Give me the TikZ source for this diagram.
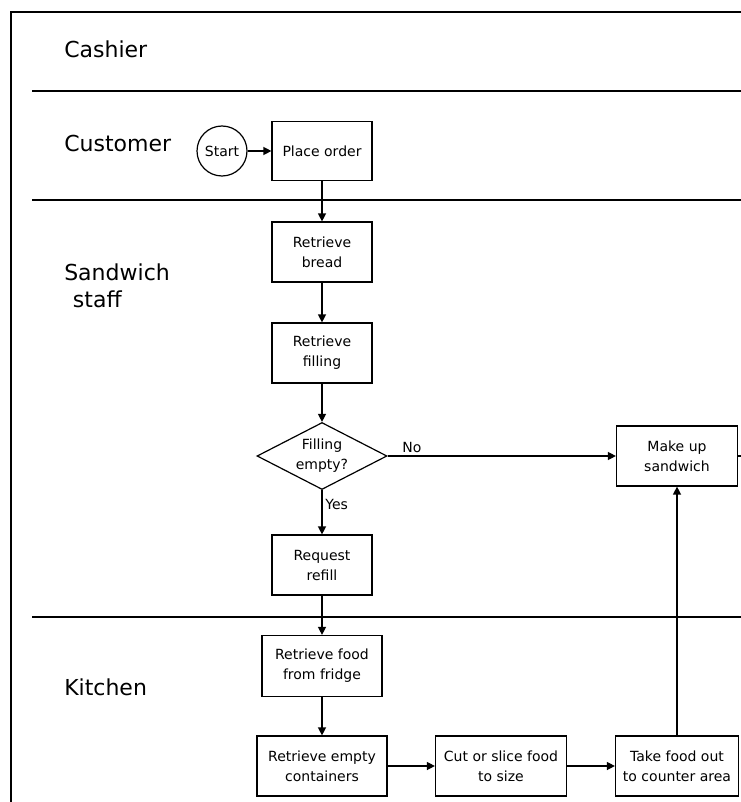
\documentclass[tikz,border=0pt]{standalone}
\usepackage{fontspec}
\setmainfont{DejaVu Sans}
\usetikzlibrary{arrows.meta,shapes.geometric}

\tikzset{
    lane/.style = {anchor = west, align = left, inner xsep = 0pt, font = \fontsize{16.5}{20}\selectfont},
    task/.style = {draw, line width = .9pt, align = center, inner sep = 0pt,
                   minimum width = 75pt, minimum height = 45pt, font = \fontsize{10.5}{15}\selectfont},
    flow/.style = {line width = 1pt, -{Triangle[length = 6pt, width = 6pt]}},
    tag/.style  = {font = \fontsize{10.5}{12}\selectfont, inner sep = 2pt}
}

\begin{document}
\begin{tikzpicture}[x = .75pt, y = -.75pt]
    \useasboundingbox (0, 0) rectangle (741, 802);

    % frame and swim lanes
    \draw[ line width = 2pt ] (11, 802) -- (11, 12) -- (741, 12);
    \foreach \y in {91, 200, 617} {
        \draw[ line width = 1.2pt ] (32, \y) -- (741, \y);
    }

    \node (cashier)  at (64, 49)    [lane] {Cashier};
    \node (customer) at (64, 143)   [lane] {Customer};
    \node (sandwich) at (64, 285.5) [lane] {Sandwich\\\hspace*{6.5pt}staff};
    \node (kitchen)  at (64, 687)   [lane] {Kitchen};

    % steps
    \node (start) at (222, 151) [circle, draw, line width = .9pt, minimum size = 37.5pt, inner sep = 0pt,
                                 font = \fontsize{10.5}{12}\selectfont] {Start};
    \node (order)   at (322, 151) [task, minimum height = 44.25pt] {Place order};
    \node (bread)   at (322, 252) [task] {Retrieve\\bread};
    \node (filling) at (322, 353) [task] {Retrieve\\filling};
    \node (empty)   at (322, 456) [diamond, draw, line width = .9pt, aspect = 2, inner sep = 0pt,
                                   minimum width = 97.5pt, minimum height = 50.25pt, align = center,
                                   font = \fontsize{10.5}{15}\selectfont] {Filling\\empty?};
    \node (refill)  at (322, 565) [task] {Request\\refill};
    \node (makeup)  at (677, 456) [task, minimum width = 90.75pt] {Make up\\sandwich};

    \node (fridge)     at (322, 666) [task, minimum width = 90pt, minimum height = 45.75pt] {Retrieve food\\from fridge};
    \node (containers) at (322, 766) [task, minimum width = 97.5pt] {Retrieve empty\\containers};
    \node (cut)        at (501, 766) [task, minimum width = 98.25pt] {Cut or slice food\\to size};
    \node (take)       at (677, 766) [task, minimum width = 92.25pt] {Take food out\\to counter area};

    \coordinate (offpage) at (741, 456);

    % connectors
    \draw[ flow ] (start) -- (order);
    \draw[ flow ] (order) -- (bread);
    \draw[ flow ] (bread) -- (filling);
    \draw[ flow ] (filling) -- (empty);
    \draw[ flow ] (empty) -- node [tag, pos = .05, anchor = south west] {No} (makeup);
    \draw[ flow ] (empty) -- node [tag, pos = .33, anchor = west] {Yes} (refill);
    \draw[ flow ] (refill) -- (fridge);
    \draw[ flow ] (fridge) -- (containers);
    \draw[ flow ] (containers) -- (cut);
    \draw[ flow ] (cut) -- (take);
    \draw[ flow ] (take) -- (makeup);
    \draw[ line width = 1pt ] (makeup) -- (offpage);
\end{tikzpicture}
\end{document}
